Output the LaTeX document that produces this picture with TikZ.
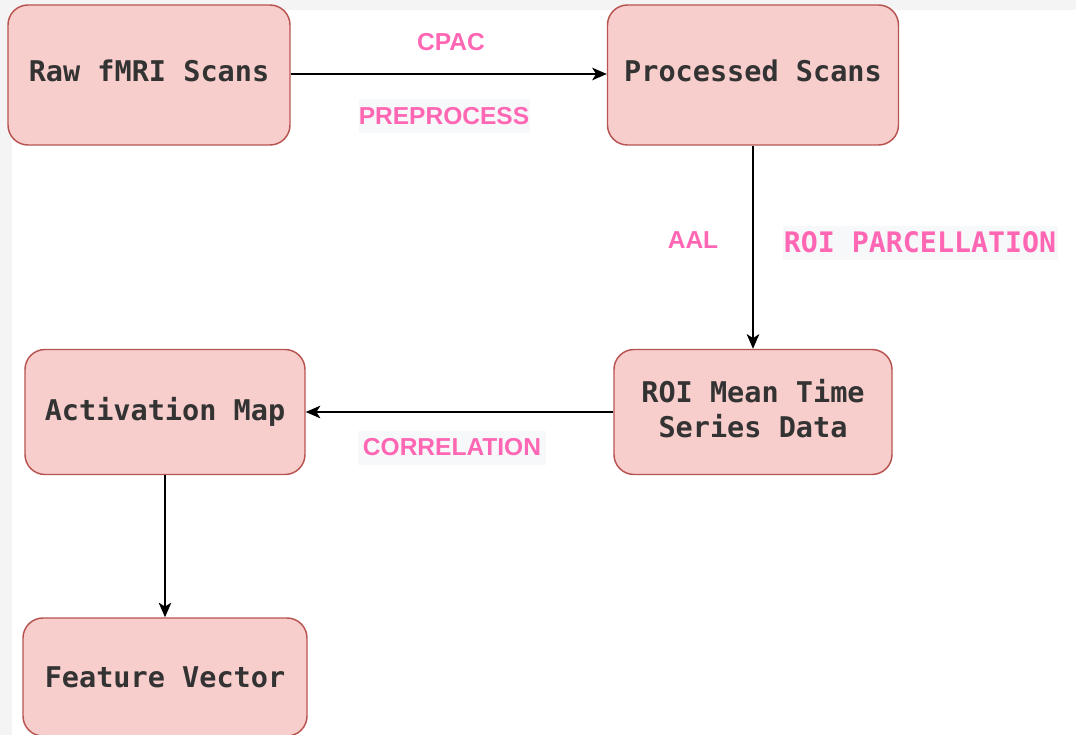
\documentclass[tikz,border=0pt]{standalone}
\usepackage{fontspec}
\setmainfont{Liberation Sans}
\setmonofont{DejaVu Sans Mono}
\usetikzlibrary{arrows.meta}
\definecolor{boxfill}{HTML}{F8CECC}
\definecolor{boxdraw}{HTML}{B85450}
\definecolor{boxtext}{HTML}{333333}
\definecolor{lblpink}{HTML}{FF66B3}
\definecolor{lblbg}{HTML}{F7F8FA}
\definecolor{pagegrey}{HTML}{F4F4F4}
\tikzset{
  stepbox/.style={draw=boxdraw, fill=boxfill, line width=1.1pt, rounded corners=15pt,
    inner sep=0pt, align=center, text=boxtext, text depth=6pt,
    font=\ttfamily\bfseries\fontsize{21.4}{26.2}\selectfont},
  sanslbl/.style={text=lblpink, inner sep=0pt, font=\bfseries\fontsize{18.4}{22}\selectfont},
  monolbl/.style={text=lblpink, inner sep=0pt, font=\ttfamily\bfseries\fontsize{21.2}{24}\selectfont},
  lblback/.style={fill=lblbg, inner sep=0pt},
  flow/.style={line width=0.95pt, -{Stealth[length=11pt, width=9.5pt, inset=3pt]}}
}
\begin{document}
\begin{tikzpicture}[x=0.75pt, y=-0.75pt]
\useasboundingbox (0,0) rectangle (1076,735);
\fill[pagegrey] (0,0) rectangle (1076,735);
\fill[white] (12,10) rectangle (1076,735);

\node[stepbox, minimum width=282*0.75pt, minimum height=140*0.75pt] (raw) at (149,75) {Raw fMRI Scans};
\node[stepbox, minimum width=291*0.75pt, minimum height=140*0.75pt] (proc) at (753,75) {Processed Scans};
\node[stepbox, minimum width=278*0.75pt, minimum height=125*0.75pt] (roi) at (753,412) {ROI Mean Time\\Series Data};
\node[stepbox, minimum width=280*0.75pt, minimum height=125*0.75pt, text depth=4pt] (act) at (165,412) {Activation Map};
\node[stepbox, minimum width=284*0.75pt, minimum height=118*0.75pt, text depth=0pt] (feat) at (165,677) {Feature Vector};

\draw[flow] (raw.east |- 0,74) -- (proc.west |- 0,74);
\draw[flow] (proc.south) -- (roi.north);
\draw[flow] (roi.west) -- (act.east);
\draw[flow] (act.south) -- (feat.north);

\node[sanslbl] (cpac) at (451,42) {CPAC};
\node[lblback, minimum width=171*0.75pt, minimum height=34*0.75pt] (prebg) at (444,116) {};
\node[sanslbl] (pre) at (444,116) {PREPROCESS};
\node[sanslbl] (aal) at (693,240) {AAL};
\node[lblback, minimum width=275*0.75pt, minimum height=34*0.75pt] (roibg) at (920,243) {};
\node[monolbl] (parc) at (920,242) {ROI PARCELLATION};
\node[lblback, minimum width=188*0.75pt, minimum height=34*0.75pt] (corbg) at (452,448) {};
\node[sanslbl] (corr) at (452,447) {CORRELATION};
\end{tikzpicture}
\end{document}
